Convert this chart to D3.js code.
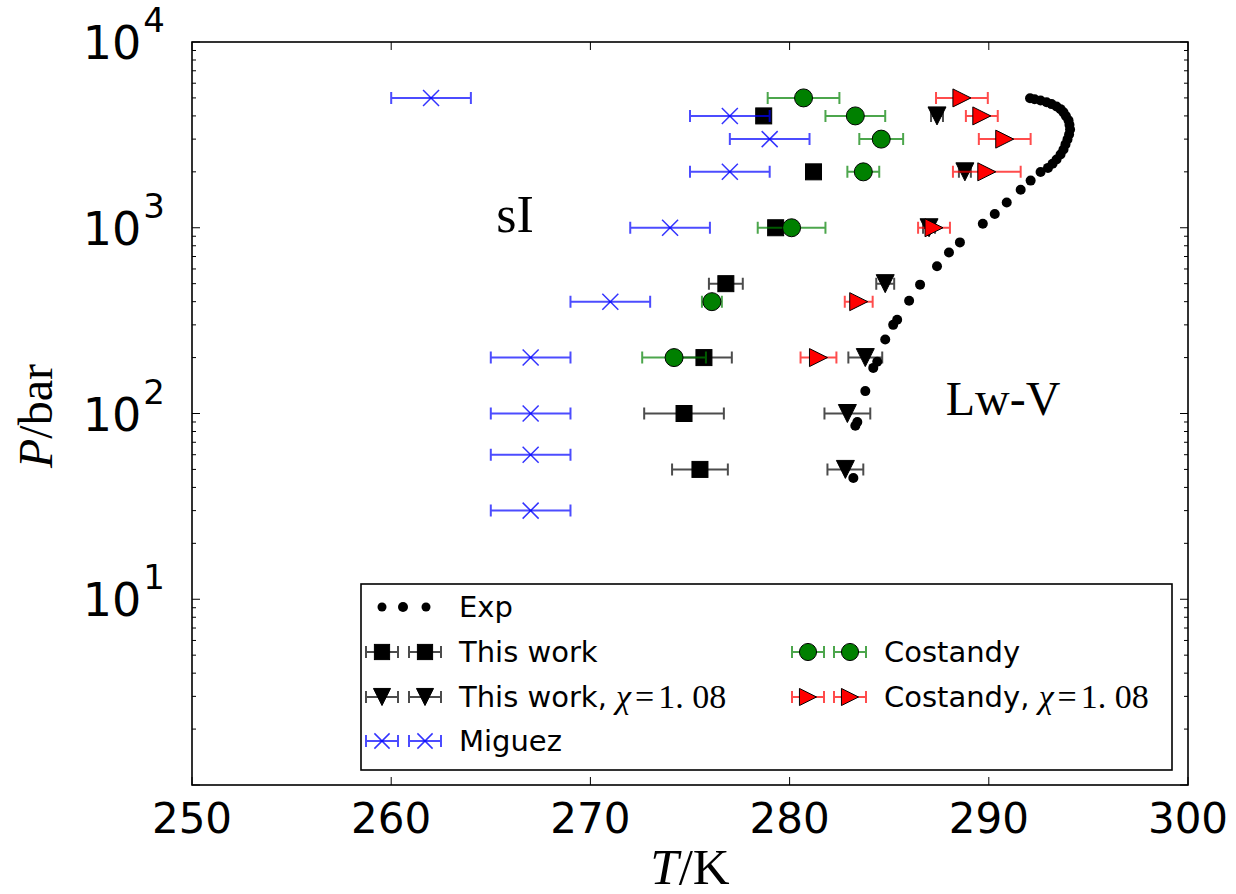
<!DOCTYPE html>
<html>
<head>
<meta charset="utf-8">
<script src="https://cdn.jsdelivr.net/npm/d3@7"></script>
<style>
  html, body { margin: 0; padding: 0; background: #fff; }
  svg { display: block; }
</style>
</head>
<body>
<svg id="chart" width="1236" height="894"></svg>
<script>
// ---------------- data ----------------
const expT = [283.2, 283.3, 283.4, 283.8, 284.2, 284.4, 284.8, 285.2, 285.4, 286.0, 286.55, 287.4, 288.0, 288.55, 289.7, 290.3, 290.9, 291.6, 292.1, 292.6, 292.97, 293.2, 293.4, 293.6, 293.75, 293.85, 293.95, 294.03, 294.08, 294.05, 294.0, 293.87, 293.75, 293.6, 293.4, 293.15, 292.9, 292.6, 292.3, 292.07];
const expP = [45, 86, 90, 132, 176, 190, 250, 300, 320, 405, 494, 620, 736, 834, 1052, 1187, 1369, 1600, 1794, 1996, 2100, 2210, 2330, 2480, 2640, 2810, 2990, 3180, 3380, 3580, 3790, 4000, 4180, 4350, 4500, 4630, 4740, 4840, 4920, 4980];

const thisWorkT   = [278.7, 281.2, 279.3, 276.8, 275.7, 274.7, 275.5];
const thisWorkP   = [4000, 2000, 1000, 500, 200, 100, 50];
const thisWorkErr = [0.3, 0.3, 0.3, 0.85, 1.4, 2.0, 1.4];

const thisWorkChiT   = [287.4, 288.8, 287.0, 284.8, 283.8, 282.9, 282.8];
const thisWorkChiP   = [4000, 2000, 1000, 500, 200, 100, 50];
const thisWorkChiErr = [0.3, 0.3, 0.3, 0.45, 0.85, 1.15, 0.9];

const miguezT   = [262, 277, 279, 277, 274, 271, 267, 267, 267, 267];
const miguezP   = [5000, 4000, 3000, 2000, 1000, 400, 200, 100, 60, 30];
const miguezErr = [2, 2, 2, 2, 2, 2, 2, 2, 2, 2];

const costandyT   = [280.7, 283.3, 284.6, 283.7, 280.1, 276.1, 274.2];
const costandyP   = [5000, 4000, 3000, 2000, 1000, 400, 200];
const costandyErr = [1.8, 1.5, 1.1, 0.8, 1.7, 0.5, 1.6];

const costandyChiT   = [288.65, 289.65, 290.8, 289.9, 287.25, 283.47, 281.45];
const costandyChiP   = [5000, 4000, 3000, 2000, 1000, 400, 200];
const costandyChiErr = [1.3, 0.8, 1.3, 1.7, 0.8, 0.7, 0.9];

const xTicks = [250, 260, 270, 280, 290, 300];
const yTickExps = [1, 2, 3, 4];

// ---------------- layout ----------------
const svg = d3.select("#chart");
const L = 192, R = 1188, T = 42, B = 785;
const x = d3.scaleLinear().domain([250, 300]).range([L, R]);
const y = d3.scaleLog().domain([1, 1e4]).range([B, T]);

const sansFont = "'DejaVu Sans', sans-serif";
const serifFont = "'Liberation Serif', 'DejaVu Serif', serif";

// ---------------- markers ----------------
const H = 9;
function drawMarker(g, type, cx, cy, s = 1) {
  const h = H * s;
  if (type === "square") {
    g.append("rect").attr("x", cx - 8 * s).attr("y", cy - 8 * s)
      .attr("width", 16 * s).attr("height", 16 * s)
      .attr("fill", "#000").attr("stroke", "#000").attr("stroke-width", 1);
  } else if (type === "tridown") {
    g.append("path").attr("d", `M${cx - h},${cy - h}L${cx + h},${cy - h}L${cx},${cy + h}Z`)
      .attr("fill", "#000").attr("stroke", "#000").attr("stroke-width", 1);
  } else if (type === "circle") {
    g.append("circle").attr("cx", cx).attr("cy", cy).attr("r", 9 * s)
      .attr("fill", "#008000").attr("stroke", "#000").attr("stroke-width", 1);
  } else if (type === "triright") {
    g.append("path").attr("d", `M${cx - h},${cy - h}L${cx - h},${cy + h}L${cx + h},${cy}Z`)
      .attr("fill", "#ff0000").attr("stroke", "#000").attr("stroke-width", 1);
  } else if (type === "x") {
    const a = 8 * s;
    g.append("path").attr("d", `M${cx - a},${cy - a}L${cx + a},${cy + a}M${cx - a},${cy + a}L${cx + a},${cy - a}`)
      .attr("stroke", "#0000ff").attr("stroke-width", 1.5).attr("fill", "none").attr("opacity", 0.8);
  }
}

function drawErr(g, color, x0, x1, cy) {
  g.append("path")
    .attr("d", `M${x0},${cy}L${x1},${cy}M${x0},${cy - 6}L${x0},${cy + 6}M${x1},${cy - 6}L${x1},${cy + 6}`)
    .attr("stroke", color).attr("stroke-width", 2).attr("fill", "none").attr("opacity", 0.7);
}

function series(Ts, Ps, Es, color, type) {
  const g = svg.append("g");
  Ts.forEach((t, i) => {
    const cy = y(Ps[i]);
    drawErr(g, color, x(t - Es[i]), x(t + Es[i]), cy);
    drawMarker(g, type, x(t), cy);
  });
}

series(thisWorkT, thisWorkP, thisWorkErr, "#000", "square");
series(thisWorkChiT, thisWorkChiP, thisWorkChiErr, "#000", "tridown");
series(miguezT, miguezP, miguezErr, "#0000ff", "x");
series(costandyT, costandyP, costandyErr, "#008000", "circle");
series(costandyChiT, costandyChiP, costandyChiErr, "#ff0000", "triright");

// Exp dots
svg.append("g").selectAll("circle").data(expT.map((t, i) => [t, expP[i]]))
  .join("circle").attr("cx", d => x(d[0])).attr("cy", d => y(d[1])).attr("r", 5).attr("fill", "#000");

// ---------------- annotations ----------------
svg.append("text").attr("x", 515).attr("y", 232).attr("text-anchor", "middle")
  .attr("font-family", serifFont).attr("font-size", 52).text("sI");
svg.append("text").attr("x", 1003).attr("y", 415).attr("text-anchor", "middle")
  .attr("font-family", serifFont).attr("font-size", 48).text("Lw-V");

// ---------------- axes / ticks ----------------
const axG = svg.append("g");
xTicks.forEach(v => {
  const px = x(v);
  axG.append("line").attr("x1", px).attr("x2", px).attr("y1", B).attr("y2", B - 8).attr("stroke", "#000").attr("stroke-width", 1);
  axG.append("line").attr("x1", px).attr("x2", px).attr("y1", T).attr("y2", T + 8).attr("stroke", "#000").attr("stroke-width", 1);
  axG.append("text").attr("x", px).attr("y", 833).attr("text-anchor", "middle")
    .attr("font-family", sansFont).attr("font-size", 42).attr("fill", "#000").text(v);
});
const yMajor = [1, 10, 100, 1000, 10000];
yMajor.forEach(v => {
  const py = y(v);
  axG.append("line").attr("x1", L).attr("x2", L + 8).attr("y1", py).attr("y2", py).attr("stroke", "#000").attr("stroke-width", 1);
  axG.append("line").attr("x1", R).attr("x2", R - 8).attr("y1", py).attr("y2", py).attr("stroke", "#000").attr("stroke-width", 1);
});
for (let d = 1; d < 10000; d *= 10) {
  for (let k = 2; k <= 9; k++) {
    const py = y(d * k);
    axG.append("line").attr("x1", L).attr("x2", L + 4).attr("y1", py).attr("y2", py).attr("stroke", "#000").attr("stroke-width", 1);
    axG.append("line").attr("x1", R).attr("x2", R - 4).attr("y1", py).attr("y2", py).attr("stroke", "#000").attr("stroke-width", 1);
  }
}
yTickExps.forEach(e => {
  const py = y(Math.pow(10, e));
  const t = axG.append("text").attr("x", 165).attr("y", py + 17).attr("text-anchor", "end")
    .attr("font-family", sansFont).attr("font-size", 46).attr("fill", "#000");
  t.append("tspan").text("10");
  t.append("tspan").attr("dy", -27).attr("dx", 2).attr("font-size", 34).text(e);
});

// frame
svg.append("rect").attr("x", L).attr("y", T).attr("width", R - L).attr("height", B - T)
  .attr("fill", "none").attr("stroke", "#000").attr("stroke-width", 1.6);

// axis labels
const xl = svg.append("text").attr("x", 690).attr("y", 884).attr("text-anchor", "middle")
  .attr("font-family", serifFont).attr("font-size", 51).attr("fill", "#000");
xl.append("tspan").attr("font-style", "italic").text("T");
xl.append("tspan").text("/K");

const yl = svg.append("text").attr("transform", "translate(52,416) rotate(-90)").attr("text-anchor", "middle")
  .attr("font-family", serifFont).attr("font-size", 48).attr("fill", "#000");
yl.append("tspan").attr("font-style", "italic").text("P");
yl.append("tspan").text("/bar");

// ---------------- legend ----------------
const lg = svg.append("g");
lg.append("rect").attr("x", 361).attr("y", 584).attr("width", 811).attr("height", 186)
  .attr("fill", "#fff").attr("stroke", "#000").attr("stroke-width", 1.6);

const legendItems = [
  { label: "Exp", chi: false, type: "exp", color: "#000", col: 0, row: 0 },
  { label: "This work", chi: false, type: "square", color: "#000", col: 0, row: 1 },
  { label: "This work, ", chi: true, type: "tridown", color: "#000", col: 0, row: 2 },
  { label: "Miguez", chi: false, type: "x", color: "#0000ff", col: 0, row: 3 },
  { label: "Costandy", chi: false, type: "circle", color: "#008000", col: 1, row: 1 },
  { label: "Costandy, ", chi: true, type: "triright", color: "#ff0000", col: 1, row: 2 }
];
const rowY = [607, 652, 697, 741];
const colMarkX = [[382, 425], [808, 850]];
const colTextX = [459, 884];
legendItems.forEach(it => {
  const cy = rowY[it.row];
  if (it.type === "exp") {
    [382, 403, 426].forEach((cx, i) => lg.append("circle").attr("cx", cx).attr("cy", cy).attr("r", i === 1 ? 5 : 4.5).attr("fill", "#000"));
  } else {
    colMarkX[it.col].forEach(cx => {
      drawErr(lg, it.color, cx - 16, cx + 16, cy);
      drawMarker(lg, it.type, cx, cy, 0.95);
    });
  }
  const t = lg.append("text").attr("x", colTextX[it.col]).attr("y", cy + 10)
    .attr("font-family", sansFont).attr("font-size", 29).attr("fill", "#000").text(it.label);
  if (it.chi) {
    t.append("tspan").attr("font-family", serifFont).attr("font-style", "italic").attr("font-size", 34).attr("dy", 1).text("χ");
    t.append("tspan").attr("font-family", serifFont).attr("font-size", 34).attr("dx", 4).text("=");
    t.append("tspan").attr("font-family", serifFont).attr("font-size", 34).attr("dx", 4).text("1. 08");
  }
});
</script>
</body>
</html>
